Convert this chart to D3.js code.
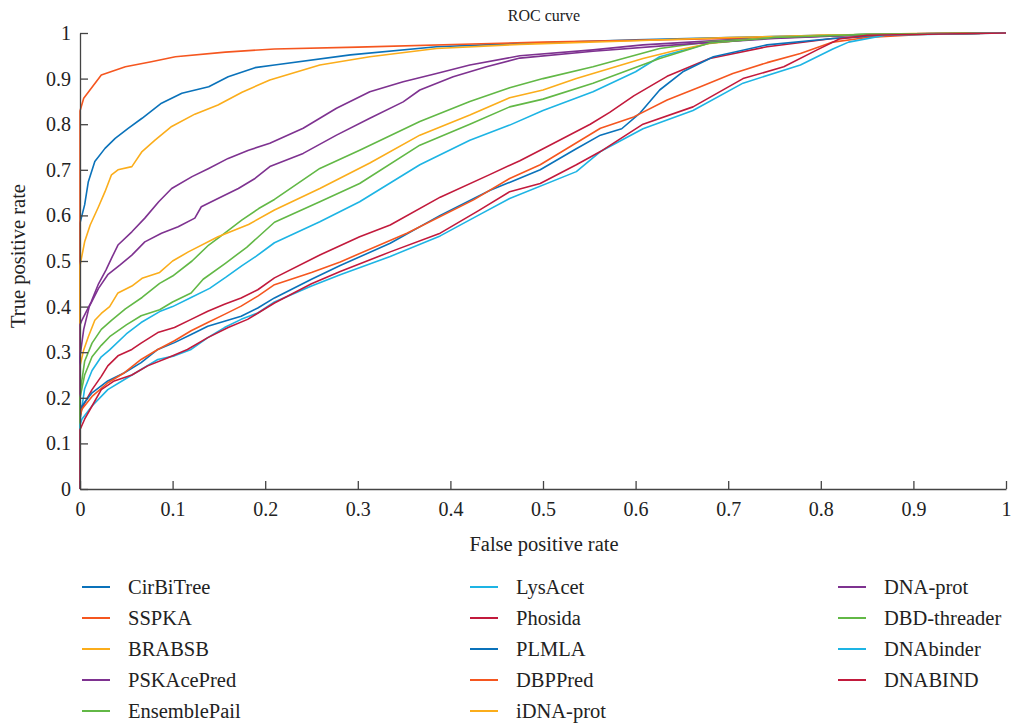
<!DOCTYPE html>
<html><head><meta charset="utf-8">
<script src="https://cdn.jsdelivr.net/npm/d3@7"></script>
<style>
body{margin:0;background:#fff;}
text{font-family:"Liberation Serif","DejaVu Serif",serif;fill:#222;}
</style></head>
<body><svg id="c" width="1015" height="727"></svg>
<script>
const xTicks=[0,0.1,0.2,0.3,0.4,0.5,0.6,0.7,0.8,0.9,1];
const yTicks=[0,0.1,0.2,0.3,0.4,0.5,0.6,0.7,0.8,0.9,1];
const tickLabels=["0","0.1","0.2","0.3","0.4","0.5","0.6","0.7","0.8","0.9","1"];
const seriesNames=["CirBiTree","SSPKA","BRABSB","PSKAcePred","EnsemblePail","LysAcet","Phosida","PLMLA","DBPPred","iDNA-prot","DNA-prot","DBD-threader","DNAbinder","DNABIND"];
const seriesColors=["#0a72ba","#f5561f","#fbad1b","#7e3290","#62b846","#1db4e4","#c21a3c","#0a72ba","#f5561f","#fbad1b","#7e3290","#62b846","#1db4e4","#c21a3c"];

const CirBiTree=[[0,0],[0,0.583],[0.005,0.623],[0.009,0.674],[0.016,0.718],[0.027,0.747],[0.038,0.769],[0.052,0.791],[0.067,0.813],[0.088,0.846],[0.11,0.868],[0.139,0.882],[0.16,0.904],[0.189,0.924],[0.21,0.93],[0.292,0.952],[0.385,0.97],[0.475,0.977],[0.6,0.985],[0.7,0.99],[0.8,0.995],[0.9,0.998],[1,1]];
const SSPKA=[[0,0],[0,0.829],[0.004,0.857],[0.023,0.908],[0.049,0.926],[0.077,0.937],[0.103,0.948],[0.157,0.958],[0.21,0.965],[0.3,0.969],[0.5,0.98],[0.7,0.988],[0.8,0.993],[0.9,0.998],[1,1]];
const BRABSB=[[0,0],[0,0.49],[0.005,0.542],[0.011,0.579],[0.02,0.619],[0.027,0.652],[0.034,0.689],[0.041,0.7],[0.056,0.707],[0.067,0.74],[0.081,0.765],[0.099,0.795],[0.124,0.822],[0.149,0.842],[0.175,0.87],[0.205,0.897],[0.259,0.93],[0.313,0.948],[0.385,0.966],[0.475,0.975],[0.6,0.983],[0.7,0.99],[0.8,0.995],[1,1]];
const PSKAcePred=[[0,0],[0,0.36],[0.002,0.37],[0.012,0.41],[0.02,0.45],[0.028,0.48],[0.035,0.51],[0.041,0.535],[0.056,0.564],[0.07,0.594],[0.085,0.63],[0.099,0.659],[0.121,0.685],[0.139,0.703],[0.16,0.725],[0.182,0.743],[0.205,0.758],[0.241,0.791],[0.277,0.835],[0.313,0.871],[0.349,0.893],[0.385,0.911],[0.421,0.93],[0.475,0.95],[0.554,0.963],[0.608,0.974],[0.7,0.985],[0.8,0.993],[0.9,0.998],[1,1]];
const EnsemblePail=[[0,0],[0,0.21],[0.005,0.28],[0.013,0.32],[0.023,0.35],[0.034,0.37],[0.049,0.395],[0.067,0.42],[0.086,0.451],[0.1,0.467],[0.121,0.5],[0.139,0.535],[0.151,0.553],[0.175,0.59],[0.193,0.615],[0.21,0.635],[0.259,0.703],[0.302,0.743],[0.367,0.806],[0.421,0.85],[0.464,0.88],[0.5,0.9],[0.554,0.926],[0.626,0.966],[0.68,0.981],[0.75,0.99],[0.85,0.997],[1,1]];
const LysAcet=[[0,0],[0,0.15],[0.005,0.22],[0.013,0.26],[0.023,0.29],[0.032,0.305],[0.05,0.34],[0.066,0.365],[0.086,0.389],[0.1,0.4],[0.12,0.42],[0.14,0.44],[0.158,0.465],[0.175,0.49],[0.19,0.51],[0.21,0.54],[0.259,0.586],[0.302,0.63],[0.367,0.711],[0.421,0.765],[0.464,0.798],[0.5,0.83],[0.554,0.871],[0.6,0.915],[0.626,0.948],[0.68,0.978],[0.75,0.99],[0.85,0.997],[1,1]];
const Phosida=[[0,0],[0,0.167],[0.005,0.189],[0.013,0.218],[0.023,0.247],[0.03,0.27],[0.041,0.292],[0.056,0.306],[0.066,0.32],[0.084,0.343],[0.102,0.354],[0.12,0.372],[0.138,0.39],[0.156,0.405],[0.174,0.419],[0.192,0.437],[0.21,0.463],[0.259,0.513],[0.302,0.553],[0.335,0.579],[0.389,0.64],[0.443,0.69],[0.475,0.72],[0.497,0.743],[0.551,0.8],[0.572,0.826],[0.598,0.862],[0.634,0.905],[0.68,0.944],[0.742,0.97],[0.813,0.988],[0.9,0.998],[1,1]];
const PLMLA=[[0,0],[0,0.16],[0.002,0.182],[0.013,0.211],[0.03,0.237],[0.048,0.255],[0.066,0.277],[0.084,0.306],[0.102,0.321],[0.12,0.339],[0.138,0.357],[0.156,0.368],[0.174,0.379],[0.192,0.397],[0.21,0.419],[0.25,0.46],[0.281,0.49],[0.335,0.539],[0.389,0.6],[0.443,0.655],[0.497,0.7],[0.535,0.745],[0.562,0.776],[0.585,0.79],[0.605,0.825],[0.626,0.875],[0.651,0.915],[0.684,0.948],[0.742,0.974],[0.813,0.988],[0.9,0.998],[1,1]];
const DBPPred=[[0,0],[0,0.155],[0.002,0.175],[0.013,0.203],[0.03,0.233],[0.048,0.255],[0.066,0.284],[0.084,0.306],[0.102,0.325],[0.12,0.347],[0.138,0.365],[0.156,0.383],[0.174,0.401],[0.192,0.423],[0.21,0.448],[0.25,0.475],[0.281,0.498],[0.353,0.561],[0.425,0.634],[0.464,0.681],[0.497,0.711],[0.562,0.791],[0.598,0.816],[0.634,0.853],[0.67,0.882],[0.705,0.911],[0.742,0.935],[0.778,0.955],[0.813,0.98],[0.85,0.99],[0.92,0.998],[1,1]];
const iDNAprot=[[0,0],[0,0.27],[0.004,0.305],[0.009,0.334],[0.016,0.37],[0.023,0.385],[0.032,0.4],[0.041,0.43],[0.056,0.445],[0.067,0.462],[0.086,0.475],[0.1,0.5],[0.117,0.52],[0.149,0.553],[0.182,0.58],[0.21,0.612],[0.259,0.659],[0.313,0.715],[0.367,0.776],[0.421,0.82],[0.464,0.858],[0.5,0.875],[0.536,0.9],[0.572,0.922],[0.608,0.944],[0.644,0.962],[0.68,0.977],[0.734,0.988],[0.8,0.995],[0.9,0.999],[1,1]];
const DNAprot=[[0,0],[0,0.29],[0.004,0.35],[0.01,0.4],[0.02,0.44],[0.03,0.47],[0.043,0.491],[0.056,0.513],[0.07,0.542],[0.088,0.561],[0.106,0.575],[0.124,0.594],[0.131,0.619],[0.149,0.637],[0.171,0.659],[0.189,0.681],[0.205,0.707],[0.241,0.736],[0.277,0.776],[0.313,0.813],[0.349,0.849],[0.367,0.875],[0.403,0.904],[0.439,0.926],[0.475,0.945],[0.554,0.96],[0.65,0.975],[0.75,0.988],[0.85,0.996],[1,1]];
const DBDthreader=[[0,0],[0,0.2],[0.005,0.25],[0.013,0.29],[0.023,0.315],[0.032,0.334],[0.05,0.36],[0.066,0.38],[0.086,0.393],[0.1,0.41],[0.12,0.43],[0.133,0.46],[0.157,0.495],[0.18,0.53],[0.21,0.585],[0.259,0.63],[0.302,0.67],[0.367,0.754],[0.421,0.8],[0.464,0.838],[0.5,0.855],[0.554,0.89],[0.626,0.944],[0.68,0.978],[0.75,0.99],[0.85,0.997],[1,1]];
const DNAbinder=[[0,0],[0,0.14],[0.002,0.153],[0.013,0.182],[0.03,0.218],[0.048,0.24],[0.066,0.262],[0.084,0.284],[0.102,0.292],[0.12,0.306],[0.138,0.332],[0.156,0.354],[0.174,0.372],[0.192,0.386],[0.21,0.41],[0.25,0.445],[0.281,0.47],[0.335,0.51],[0.389,0.555],[0.43,0.6],[0.464,0.637],[0.536,0.696],[0.562,0.74],[0.608,0.79],[0.662,0.83],[0.716,0.89],[0.778,0.93],[0.813,0.965],[0.83,0.98],[0.87,0.995],[1,1]];
const DNABIND=[[0,0],[0,0.13],[0.005,0.153],[0.013,0.182],[0.023,0.218],[0.037,0.237],[0.056,0.25],[0.073,0.27],[0.095,0.288],[0.116,0.306],[0.138,0.332],[0.16,0.354],[0.181,0.372],[0.21,0.408],[0.25,0.45],[0.281,0.477],[0.335,0.52],[0.389,0.561],[0.43,0.61],[0.464,0.652],[0.497,0.67],[0.536,0.711],[0.562,0.74],[0.608,0.8],[0.662,0.838],[0.716,0.9],[0.76,0.926],[0.796,0.963],[0.82,0.987],[0.85,0.995],[1,1]];

const seriesData=[CirBiTree,SSPKA,BRABSB,PSKAcePred,EnsemblePail,LysAcet,Phosida,PLMLA,DBPPred,iDNAprot,DNAprot,DBDthreader,DNAbinder,DNABIND];

const svg=d3.select("#c");
const x=d3.scaleLinear().domain([0,1]).range([80,1006]);
const y=d3.scaleLinear().domain([0,1]).range([489,33]);

const line=d3.line().x(d=>x(d[0])).y(d=>y(d[1]));
const g=svg.append("g");
seriesData.forEach((s,i)=>{
  g.append("path").attr("d",line(s)).attr("fill","none")
   .attr("stroke",seriesColors[i]).attr("stroke-width",1.6).attr("stroke-linejoin","round");
});

const xa=svg.append("g").attr("transform","translate(0,489)")
  .call(d3.axisBottom(x).tickValues(xTicks).tickFormat((d,i)=>tickLabels[i]).tickSizeInner(-8).tickSizeOuter(0).tickPadding(13));
const ya=svg.append("g").attr("transform","translate(80,0)")
  .call(d3.axisLeft(y).tickValues(yTicks).tickFormat((d,i)=>tickLabels[i]).tickSizeInner(-8).tickSizeOuter(0).tickPadding(9));
[xa,ya].forEach(a=>{
  a.selectAll("path,line").attr("stroke","#444").attr("stroke-width",1.3);
  a.selectAll("text").attr("font-size",20).attr("font-family","Liberation Serif").attr("fill","#222");
});

svg.append("text").attr("x",544).attr("y",21).attr("text-anchor","middle").attr("font-size",16).text("ROC curve");
svg.append("text").attr("x",544).attr("y",551).attr("text-anchor","middle").attr("font-size",20.5).text("False positive rate");
svg.append("text").attr("transform","translate(25,256) rotate(-90)").attr("text-anchor","middle").attr("font-size",20.5).text("True positive rate");

const colX=[82,470,838], rowY=[587,618,649,680,711];
seriesNames.forEach((n,i)=>{
  const c=Math.floor(i/5), r=i%5;
  const lg=svg.append("g").attr("transform",`translate(${colX[c]},${rowY[r]})`);
  lg.append("line").attr("x1",0).attr("x2",28).attr("y1",0).attr("y2",0).attr("stroke",seriesColors[i]).attr("stroke-width",2);
  lg.append("text").attr("x",46).attr("y",7).attr("font-size",20.5).text(n);
});
</script></body></html>
